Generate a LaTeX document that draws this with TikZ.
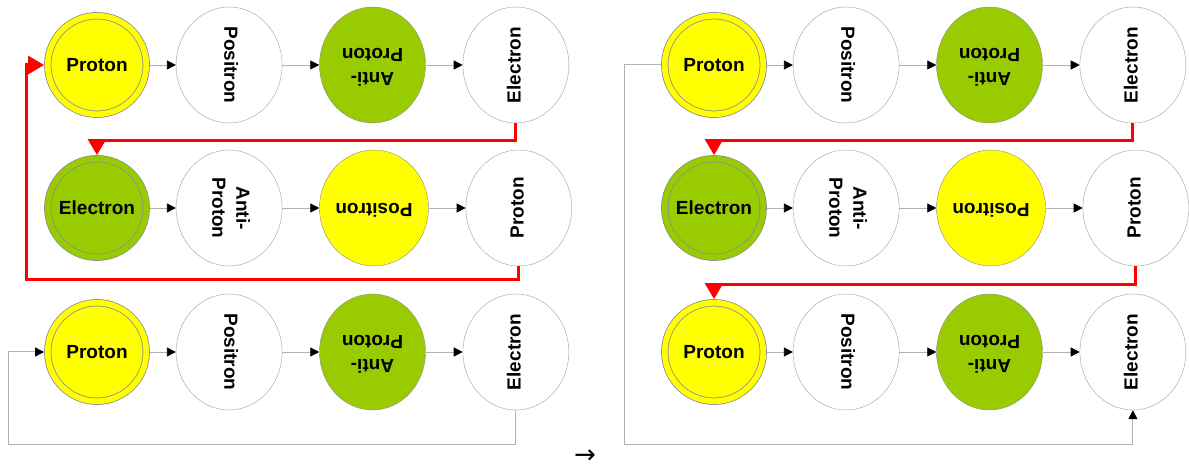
\documentclass[tikz,border=0pt]{standalone}
\usepackage{graphicx}
\usepackage{fontspec}
\setsansfont{Liberation Sans}
\newfontfamily\markfont{DejaVu Sans}
\usetikzlibrary{arrows.meta, positioning, shapes.geometric}

\definecolor{partyellow}{HTML}{FFFF00}
\definecolor{partgreen}{HTML}{99CC00}

% turned text inside a node (the shape itself stays upright)
\newcommand{\turned}[2]{\rotatebox{#1}{\begin{tabular}{@{}c@{}}#2\end{tabular}}}

\begin{document}
\begin{tikzpicture}[
    x=1pt, y=1pt,
    font=\sffamily\bfseries\fontsize{19}{24}\selectfont,
    particle/.style = {ellipse, draw=black!38, fill=white, inner sep=0pt,
                       minimum width=106pt, minimum height=116pt},
    yellowpart/.style = {particle, draw=black!45, fill=partyellow},
    greenpart/.style = {particle, draw=black!45, fill=partgreen},
    source/.style = {circle, draw=black!45, line width=0.8pt, double distance=5.7pt,
                     inner sep=0pt, minimum size=98.5pt, outer sep=3.65pt},
    yellowsrc/.style = {source, fill=partyellow, double=partyellow},
    greensrc/.style = {source, fill=partgreen, double=partgreen},
    link/.style = {draw=black!30, line width=0.8pt,
                   -{Triangle[length=9pt,width=9pt,color=black]}},
    back/.style = {link, line width=1pt},
    hop/.style = {red, line width=3pt, -{Triangle[length=16pt,width=18pt]}},
]

\useasboundingbox (0,0) rectangle (1189,474);

% Left panel, row 1
\node[yellowsrc] (l11) at (97,409) {Proton};
\node[particle, right=26pt of l11] (l12) {\turned{-90}{Positron}};
\node[greenpart, right=37pt of l12] (l13) {\turned{180}{Anti-\\Proton}};
\node[particle, right=37pt of l13] (l14) {\turned{90}{Electron}};

% Left panel, row 2
\node[greensrc] (l21) at (97,266) {Electron};
\node[particle, right=26pt of l21] (l22) {\turned{-90}{Anti-\\Proton}};
\node[yellowpart, right=37pt of l22] (l23) {\turned{180}{Positron}};
\node[particle, right=37pt of l23] (l24) {\turned{90}{Proton}};

% Left panel, row 3
\node[yellowsrc] (l31) at (97,122) {Proton};
\node[particle, right=26pt of l31] (l32) {\turned{-90}{Positron}};
\node[greenpart, right=37pt of l32] (l33) {\turned{180}{Anti-\\Proton}};
\node[particle, right=37pt of l33] (l34) {\turned{90}{Electron}};

% Right panel, row 1
\node[yellowsrc] (r11) at (714,409) {Proton};
\node[particle, right=26pt of r11] (r12) {\turned{-90}{Positron}};
\node[greenpart, right=37pt of r12] (r13) {\turned{180}{Anti-\\Proton}};
\node[particle, right=37pt of r13] (r14) {\turned{90}{Electron}};

% Right panel, row 2
\node[greensrc] (r21) at (714,266) {Electron};
\node[particle, right=26pt of r21] (r22) {\turned{-90}{Anti-\\Proton}};
\node[yellowpart, right=37pt of r22] (r23) {\turned{180}{Positron}};
\node[particle, right=37pt of r23] (r24) {\turned{90}{Proton}};

% Right panel, row 3
\node[yellowsrc] (r31) at (714,122) {Proton};
\node[particle, right=26pt of r31] (r32) {\turned{-90}{Positron}};
\node[greenpart, right=37pt of r32] (r33) {\turned{180}{Anti-\\Proton}};
\node[particle, right=37pt of r33] (r34) {\turned{90}{Electron}};

% links inside the rows
\draw[link] (l11) -- (l12);
\draw[link] (l12) -- (l13);
\draw[link] (l13) -- (l14);
\draw[link] (l21) -- (l22);
\draw[link] (l22) -- (l23);
\draw[link] (l23) -- (l24);
\draw[link] (l31) -- (l32);
\draw[link] (l32) -- (l33);
\draw[link] (l33) -- (l34);
\draw[link] (r11) -- (r12);
\draw[link] (r12) -- (r13);
\draw[link] (r13) -- (r14);
\draw[link] (r21) -- (r22);
\draw[link] (r22) -- (r23);
\draw[link] (r23) -- (r24);
\draw[link] (r31) -- (r32);
\draw[link] (r32) -- (r33);
\draw[link] (r33) -- (r34);

% corners of the long return lines
\coordinate (lback) at (26,194);
\coordinate (lloop) at (8,29);
\coordinate (rloop) at (624,29);

% red jumps, left panel
\draw[hop] (l14.south) -- ++(0,-17) -| (l21.north);
\draw[hop] (l24.south) |- (lback) |- (l11.west);

% red jumps, right panel
\draw[hop] (r14.south) -- ++(0,-17) -| (r21.north);
\draw[hop] (r24.south) -- ++(0,-18) -| (r31.north);

% gray return lines
\draw[back] (l34.south) |- (lloop) |- (l31.west);
\draw[back] (r11.west) -| (rloop) -| (r34.south);

% step mark between the panels
\node[font=\markfont\fontsize{26}{26}\selectfont] (nextstep) at (585,17) {→};

\end{tikzpicture}
\end{document}
